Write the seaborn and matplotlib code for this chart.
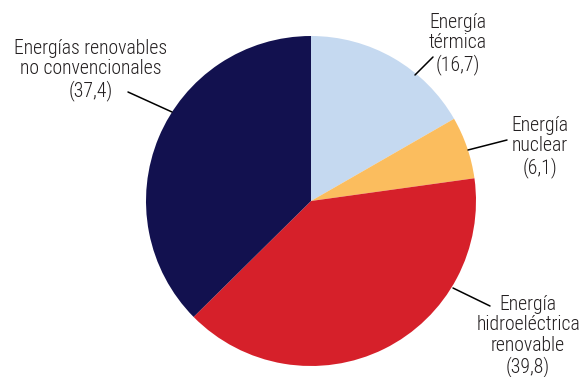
import matplotlib
matplotlib.use("Agg")
import matplotlib.pyplot as plt
import seaborn as sns

# data (percent of generation)
sources = ["Energía\ntérmica", "Energía\nnuclear", "Energía\nhidroeléctrica\nrenovable",
           "Energías renovables\nno convencionales"]
shares = [16.7, 6.1, 39.8, 37.4]
colors = ["#c5d9f0", "#fbbd5e", "#d6202a", "#12114f"]

sns.set_theme(style="white")
plt.rcParams["font.family"] = ["Roboto Condensed", "DejaVu Sans"]

W, H = 584, 377
cx, cy, r = 311, 201, 165

fig = plt.figure(figsize=(W / 100, H / 100), dpi=100)
ax = fig.add_axes([0, 0, 1, 1])
ax.pie(shares, colors=colors, startangle=90, counterclock=False, radius=r,
       center=(0, 0), wedgeprops=dict(linewidth=0))
ax.set_xlim(-cx, W - cx)
ax.set_ylim(-(H - cy), cy)
ax.set_aspect("equal")
ax.axis("off")


def px(x, y):
    return (x - cx, cy - y)


# label text position (px), leader line start (px), leader line end (px)
label_pos = [(458, 44), (540, 147), (528, 336), (91, 70)]
line_from = [(433, 57), (507, 140), (490, 306), (128, 92)]
line_to = [(415, 75), (468, 150), (453, 288), (172, 112)]

for name, val, lp, lf, lt in zip(sources, shares, label_pos, line_from, line_to):
    txt = f"{name}\n({val:.1f})".replace(".", ",")
    ax.text(*px(*lp), txt, ha="center", va="center", fontsize=14.2,
            linespacing=1.1, color="#231f20", fontweight="light")
    ax.plot([px(*lf)[0], px(*lt)[0]], [px(*lf)[1], px(*lt)[1]],
            color="black", lw=1.1)

fig.savefig("out.png", dpi=100)
